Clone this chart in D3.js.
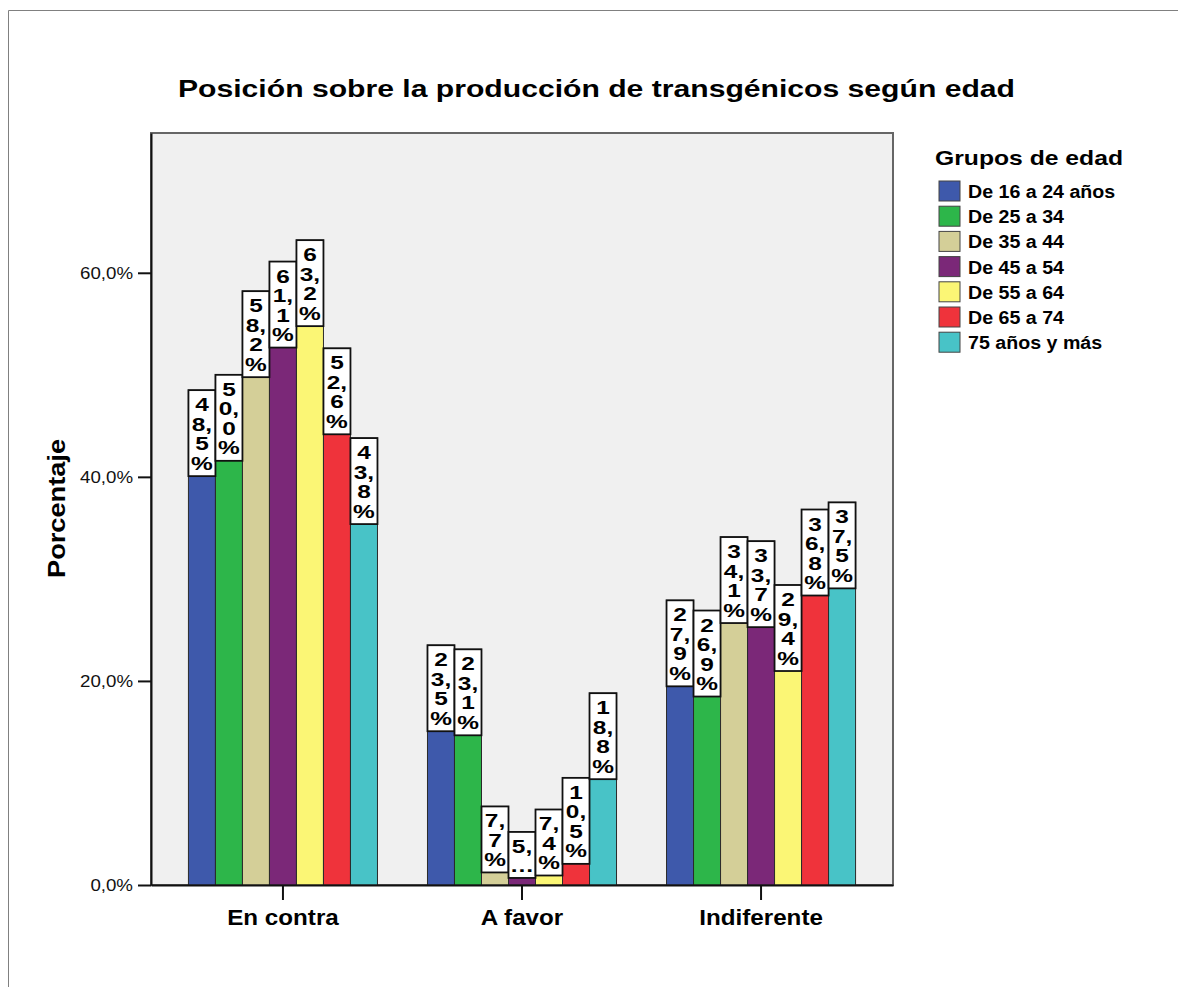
<!DOCTYPE html>
<html><head><meta charset="utf-8">
<script src="https://cdn.jsdelivr.net/npm/d3@7"></script>
<style>
body{margin:0;background:#fff;}
text{font-family:"Liberation Sans",Arial,sans-serif;}
</style></head>
<body><svg id="c" width="1178" height="987"></svg>
<script>
const categories = ["En contra", "A favor", "Indiferente"];
const groups = ["De 16 a 24 años","De 25 a 34","De 35 a 44","De 45 a 54","De 55 a 64","De 65 a 74","75 años y más"];
const v16_24 = [48.5, 23.5, 27.9];
const v25_34 = [50.0, 23.1, 26.9];
const v35_44 = [58.2, 7.7, 34.1];
const v45_54 = [61.1, 5.2, 33.7];
const v55_64 = [63.2, 7.4, 29.4];
const v65_74 = [52.6, 10.5, 36.8];
const v75 = [43.8, 18.8, 37.5];
const yTicks = [0, 20, 40, 60];
const colors = ["#3e59ab","#2db64a","#d4cf98","#7b2878","#fbf675","#ef333b","#48c3c7"];

const seriesValues = [v16_24, v25_34, v35_44, v45_54, v55_64, v65_74, v75];
const data = [];
categories.forEach((c, ci) => groups.forEach((g, gi) => data.push({cat: c, grp: g, gi, v: seriesValues[gi][ci]})));

const svg = d3.select("#c");
const L = 151, R = 893, T = 133, B = 885;

// outer frame (top and left edges only visible)
svg.append("line").attr("x1", 8.5).attr("y1", 10.5).attr("x2", 1178).attr("y2", 10.5)
  .attr("stroke", "#808080").attr("stroke-width", 1);
svg.append("line").attr("x1", 8.5).attr("y1", 10.5).attr("x2", 8.5).attr("y2", 987)
  .attr("stroke", "#808080").attr("stroke-width", 1);

// title
svg.append("text").attr("x", 596.5).attr("y", 97).attr("text-anchor", "middle")
  .attr("font-size", 23.5).attr("font-weight", "bold").attr("fill", "#000")
  .attr("textLength", 837).attr("lengthAdjust", "spacingAndGlyphs")
  .text("Posición sobre la producción de transgénicos según edad");

const y = d3.scaleLinear().domain([0, 73.7]).range([B, T]);
const x0 = d3.scaleBand().domain(categories).range([L, R]).paddingInner(0).paddingOuter(0.052);
const x1 = d3.scaleBand().domain(groups).range([0, x0.bandwidth()]).paddingInner(0).paddingOuter(0.926);

// plot background
svg.append("rect").attr("x", L).attr("y", T).attr("width", R - L).attr("height", B - T)
  .attr("fill", "#f0f0f0").attr("stroke", "#666").attr("stroke-width", 2);

// bars
const bw = x1.bandwidth();
const gBars = svg.append("g");
gBars.selectAll("rect.bar").data(data).join("rect").attr("class", "bar")
  .attr("x", d => x0(d.cat) + x1(d.grp)).attr("y", d => y(d.v))
  .attr("width", bw).attr("height", d => y(0) - y(d.v))
  .attr("fill", d => colors[d.gi]).attr("stroke", "#2a2a2a").attr("stroke-width", 1);

// labels
function tokens(s) {
  const out = [];
  for (const ch of s) { if (ch === "," && out.length) out[out.length - 1] += ch; else out.push(ch); }
  return out;
}
const lineH = 19.5;
data.forEach(d => {
  const label = d.v.toFixed(1).replace(".", ",") + "%";
  let lines = tokens(label);
  const barH = y(0) - y(d.v);
  const maxLines = Math.floor((barH - 6) / 20);
  if (lines.length > maxLines) { lines = lines.slice(0, maxLines - 1).concat(["…"]); }
  const bx = x0(d.cat) + x1(d.grp), by = y(d.v);
  const h = lines.length * 20 + 6;
  const g = gBars.append("g");
  g.append("rect").attr("x", bx).attr("y", by).attr("width", bw).attr("height", h)
    .attr("fill", "#fff").attr("stroke", "#111").attr("stroke-width", 1.8);
  lines.forEach((t, i) => {
    g.append("text").attr("transform", `translate(${bx + bw / 2},${by + 21 + i * lineH}) scale(1.32,1)`)
      .attr("text-anchor", "middle").attr("font-size", 18.5).attr("font-weight", "bold").attr("fill", "#000")
      .text(t);
  });
});

// y axis
const ya = svg.append("g").attr("transform", `translate(${L},0)`)
  .call(d3.axisLeft(y).tickValues(yTicks).tickSize(13).tickSizeOuter(0).tickPadding(5)
    .tickFormat(d => d.toFixed(1).replace(".", ",") + "%"));
ya.select(".domain").attr("stroke", "#111").attr("stroke-width", 2);
ya.selectAll(".tick line").attr("stroke", "#111").attr("stroke-width", 2);
ya.selectAll(".tick text").attr("font-size", 17).attr("fill", "#111")
  .attr("font-family", "Liberation Sans, Arial, sans-serif")
  .each(function () { const w = this.getComputedTextLength(); d3.select(this).attr("textLength", w * 1.1).attr("lengthAdjust", "spacingAndGlyphs"); });

// x axis
const xa = svg.append("g").attr("transform", `translate(0,${B})`)
  .call(d3.axisBottom(x0).tickSize(15).tickPadding(9.5).tickSizeOuter(0));
xa.select(".domain").attr("stroke", "#111").attr("stroke-width", 2);
xa.selectAll(".tick line").attr("stroke", "#111").attr("stroke-width", 2);
xa.selectAll(".tick text").attr("font-size", 22).attr("font-weight", "bold").attr("fill", "#000")
  .attr("font-family", "Liberation Sans, Arial, sans-serif")
  .each(function () { const w = this.getComputedTextLength(); d3.select(this).attr("textLength", w * 1.1).attr("lengthAdjust", "spacingAndGlyphs"); });

// y title
svg.append("text").attr("transform", "translate(65,508.5) rotate(-90)").attr("text-anchor", "middle")
  .attr("font-size", 23).attr("font-weight", "bold").attr("fill", "#000")
  .attr("textLength", 139).attr("lengthAdjust", "spacingAndGlyphs").text("Porcentaje");

// legend
svg.append("text").attr("x", 935).attr("y", 165).attr("font-size", 21).attr("font-weight", "bold")
  .attr("fill", "#000").attr("textLength", 188).attr("lengthAdjust", "spacingAndGlyphs").text("Grupos de edad");
const lg = svg.append("g");
groups.forEach((g, i) => {
  lg.append("rect").attr("x", 939).attr("y", 181 + i * 25.2).attr("width", 21).attr("height", 20)
    .attr("fill", colors[i]).attr("stroke", "#444").attr("stroke-width", 1);
  const t = lg.append("text").attr("x", 968).attr("y", 198 + i * 25.2).attr("font-size", 18)
    .attr("font-weight", "bold").attr("fill", "#000").text(g);
  const w = t.node().getComputedTextLength();
  t.attr("textLength", w * 1.09).attr("lengthAdjust", "spacingAndGlyphs");
});
</script></body></html>
